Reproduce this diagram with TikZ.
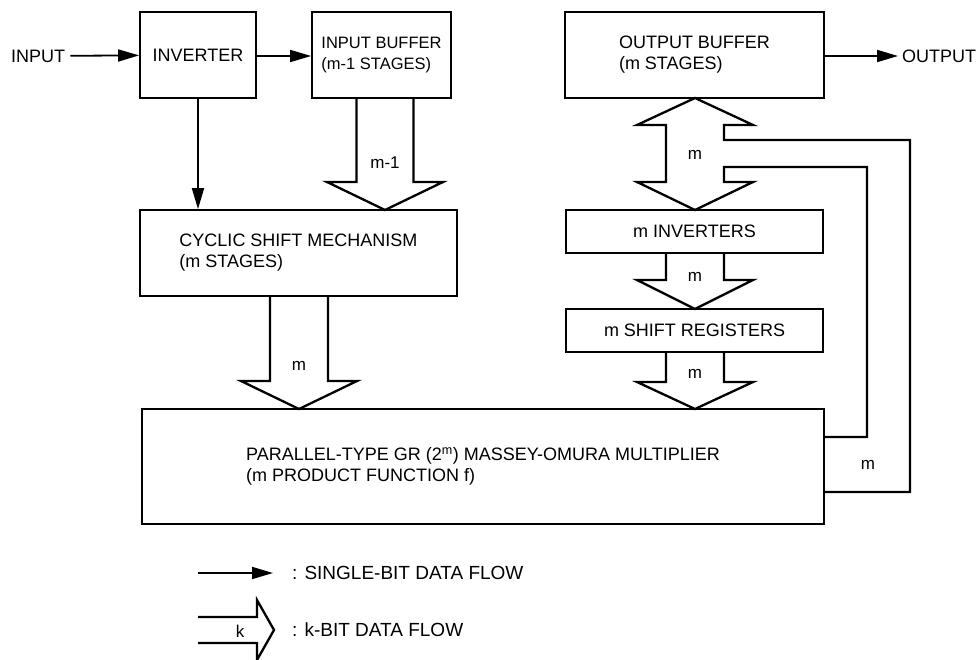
\documentclass[tikz,border=0pt]{standalone}
\usepackage{fontspec}
\setmainfont{Liberation Sans}
\usetikzlibrary{arrows.meta}
\begin{document}
\begin{tikzpicture}[x=1pt,y=-1pt,
  font=\fontsize{18}{21}\selectfont,
  box/.style={draw, line width=1.8pt, align=left, inner sep=0pt},
  sarr/.style={line width=1.8pt, -{Triangle[length=21pt,width=12pt]}},
  fat/.style={line width=2.3pt, line join=miter},
  lbl/.style={font=\fontsize{17}{19}\selectfont, inner sep=0pt},
  legtext/.style={anchor=west, inner sep=0pt, font=\fontsize{19}{21}\selectfont}]
\useasboundingbox (0,0) rectangle (980,660);

% boxes
\node[box, minimum width=116pt, minimum height=86pt] (inv) at (198,55) {INVERTER};
\node[box, minimum width=139pt, minimum height=86pt, font=\fontsize{16.5}{21}\selectfont] (ib) at (381.5,55) {INPUT BUFFER\\(m-1 STAGES)};
\node[box, minimum width=259pt, minimum height=86pt] (ob) at (694.5,55) {OUTPUT BUFFER\\(m STAGES)};
\node[box, minimum width=317pt, minimum height=86pt] (csm) at (298.5,253) {CYCLIC SHIFT MECHANISM\\(m STAGES)};
\node[box, minimum width=257pt, minimum height=43pt] (minv) at (694.5,231.5) {m INVERTERS};
\node[box, minimum width=257pt, minimum height=43pt] (msr) at (694.5,330.5) {m SHIFT REGISTERS};
\node[box, minimum width=682pt, minimum height=115pt] (mult) at (483,466.5)
  {PARALLEL-TYPE GR (2\textsuperscript{m}) MASSEY-OMURA MULTIPLIER\\(m PRODUCT FUNCTION f)};

% input / output
\node[anchor=west, inner sep=5pt] (in) at (6,56) {INPUT};
\node[anchor=west, inner sep=4pt] (out) at (898,56) {OUTPUT};

% single-bit flows
\draw[sarr] (in) -- (inv);
\draw[sarr] (inv.east |- in.east) -- (ib.west |- in.east);
\draw[sarr] (ob.east |- out.west) -- (out.west);
\draw[sarr] (inv.south) -- (inv.south |- csm.north);

% k-bit flows
\draw[fat] (356.5,98) -- (356.5,182) -- (327,182) -- (385,210) -- (443,182) -- (413.5,182) -- (413.5,98);
\node[lbl] (l1) at (385,163) {m-1};

\draw[fat] (270,296) -- (270,381) -- (241,381) -- (299,409) -- (357,381) -- (328,381) -- (328,296);
\node[lbl] (l2) at (299,366) {m};

\draw[fat] (666,253) -- (666,280) -- (637,280) -- (695,309) -- (753,280) -- (724,280) -- (724,253);
\node[lbl] (l3) at (695,277) {m};

\draw[fat] (666,352) -- (666,382) -- (637,382) -- (695,409) -- (753,382) -- (724,382) -- (724,352);
\node[lbl] (l4) at (695,374) {m};

% bidirectional flow with feedback from multiplier
\draw[fat] (824,437) -- (867,437) -- (867,167) -- (724,167) -- (724,182) -- (753,182) -- (695,210)
  -- (637,182) -- (666,182) -- (666,125) -- (637,125) -- (695,98) -- (753,125) -- (724,125)
  -- (724,140) -- (910,140) -- (910,492) -- (824,492);
\node[lbl] (l5) at (695,155) {m};
\node[lbl] (l6) at (868,465) {m};

% legend
\coordinate (la) at (198,573);
\coordinate (lb) at (273,573);
\draw[sarr] (la) -- (lb);
\node[legtext] (t1) at (292,573) {: SINGLE-BIT DATA FLOW};
\draw[fat] (198,617) -- (257,617) -- (257,600) -- (274,630) -- (257,660) -- (257,643) -- (198,643);
\node[lbl] (k) at (240,631) {k};
\node[legtext] (t2) at (292,630) {: k-BIT DATA FLOW};
\end{tikzpicture}
\end{document}
